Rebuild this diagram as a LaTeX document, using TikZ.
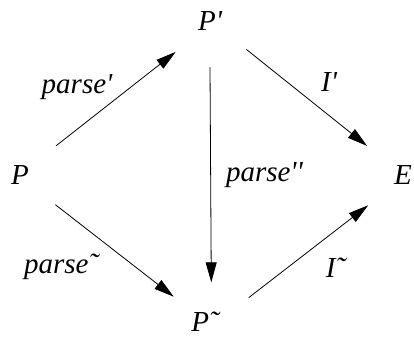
\documentclass[tikz,border=0pt]{standalone}
\usepackage{fontspec}
\setmainfont{Liberation Serif}[Ligatures=TeXOff]
\usetikzlibrary{arrows.meta}

\begin{document}
\begin{tikzpicture}[
    x=1pt, y=-1pt,
    obj/.style={circle, inner sep=0pt, minimum size=92pt, font=\fontsize{29}{34}\selectfont\itshape},
    lbl/.style={font=\fontsize{29}{34}\selectfont\itshape, inner sep=3pt},
    arr/.style={-{Triangle[length=20pt, width=11pt]}, line width=0.8pt}
]
\useasboundingbox (0,0) rectangle (414,338);

% Objects
\node[obj] (P) at (20,175) {P};
\node[obj] (Pp) at (210,21) {P'};
\node[obj] (E) at (403,175) {E};
\node[obj, minimum size=80pt] (Pt) at (205,322) {P\char"02DC};

% Maps
\draw[arr] (P.39) -- node[lbl, above left, yshift=-4pt] {parse'} (Pp.-138);
\draw[arr] (Pp.-38) -- node[lbl, above right, xshift=11pt, yshift=3pt] {I'} (E.141);
\draw[arr] (Pp.-90) -- node[lbl, right, xshift=12pt] {parse''} (Pt.81.5);
\draw[arr] (P.-40) -- node[lbl, below left, xshift=-13pt] {parse\char"02DC} (Pt.141.6);
\draw[arr, shorten <=10pt] (Pt.27.6) -- node[lbl, below right, xshift=18pt] {I\char"02DC} (E.-139.3);
\end{tikzpicture}
\end{document}
